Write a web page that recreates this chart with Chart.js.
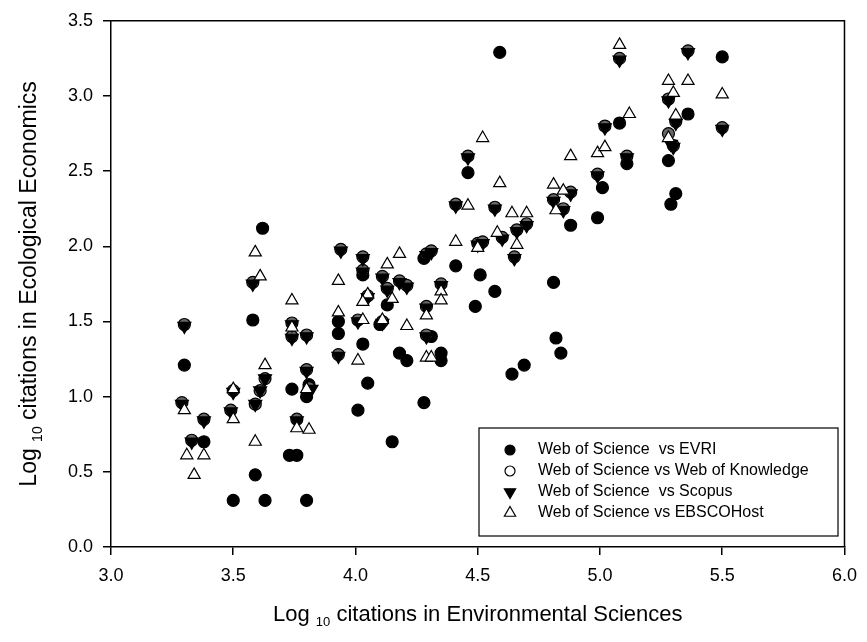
<!DOCTYPE html>
<html>
<head>
<meta charset="utf-8">
<script src="https://cdn.jsdelivr.net/npm/chart.js@4.4.0/dist/chart.umd.min.js"></script>
<style>
  body { margin: 0; background: #fff; }
  #wrap { width: 867px; height: 642px; }
</style>
</head>
<body>
<div id="wrap"><canvas id="citeChart" width="867" height="642"></canvas></div>
<script>
// log10 citation counts: [Environmental Sciences, Ecological Economics]
const seriesLabels = [
    "Web of Science  vs EVRI",
    "Web of Science vs Web of Knowledge",
    "Web of Science  vs Scopus",
    "Web of Science vs EBSCOHost",
];

const evri = [
    [3.30, 1.21], [3.38, 0.70], [3.50, 0.31], [3.63, 0.31], [3.80, 0.31], [3.59, 0.48],
    [3.58, 1.51], [3.62, 2.12], [3.74, 1.05], [3.81, 1.08], [3.80, 1.00], [3.73, 0.61],
    [3.76, 0.61], [3.93, 1.50], [3.93, 1.42], [4.03, 1.81], [4.13, 1.61], [4.28, 1.92],
    [4.41, 1.87], [4.51, 1.81], [4.57, 1.70], [4.49, 1.60], [4.10, 1.48], [4.03, 1.35],
    [4.31, 1.40], [4.18, 1.29], [4.21, 1.24], [4.35, 1.29], [4.35, 1.24], [4.05, 1.09],
    [4.01, 0.91], [4.28, 0.96], [4.15, 0.70], [4.64, 1.15], [4.69, 1.21], [4.46, 2.49],
    [5.11, 2.55], [5.01, 2.39], [4.99, 2.19], [4.88, 2.14], [4.81, 1.76], [4.82, 1.39],
    [4.84, 1.29], [4.59, 3.29], [5.50, 3.26], [5.08, 2.82], [5.36, 2.88], [5.28, 2.57],
    [5.31, 2.35], [5.29, 2.28],
];

const knowledge = [
    [3.30, 1.48], [3.29, 0.96], [3.38, 0.85], [3.33, 0.71], [3.50, 1.04], [3.49, 0.91],
    [3.59, 0.95], [3.61, 1.04], [3.63, 1.12], [3.58, 1.76], [3.74, 1.49], [3.74, 1.40],
    [3.80, 1.41], [3.80, 1.18], [3.81, 1.06], [3.76, 0.85], [3.93, 1.28], [3.94, 1.98],
    [4.03, 1.93], [4.03, 1.84], [4.11, 1.80], [4.13, 1.72], [4.18, 1.77], [4.21, 1.74],
    [4.05, 1.67], [4.29, 1.95], [4.31, 1.97], [4.35, 1.75], [4.29, 1.60], [4.11, 1.50],
    [4.01, 1.51], [4.29, 1.41], [4.41, 2.28], [4.57, 2.26], [4.50, 2.02], [4.52, 2.03],
    [4.60, 2.06], [4.66, 2.11], [4.70, 2.15], [4.65, 1.93], [4.46, 2.60], [5.11, 2.60],
    [4.99, 2.48], [4.88, 2.36], [4.81, 2.31], [4.85, 2.25], [5.08, 3.25], [5.36, 3.30],
    [5.28, 2.98], [5.02, 2.80], [5.31, 2.83], [5.28, 2.75], [5.30, 2.67], [5.50, 2.79],
];

const scopus = [
    [3.30, 1.47], [3.29, 0.95], [3.38, 0.84], [3.33, 0.70], [3.50, 1.03], [3.49, 0.90],
    [3.59, 0.95], [3.61, 1.04], [3.63, 1.12], [3.58, 1.75], [3.74, 1.48], [3.74, 1.39],
    [3.80, 1.40], [3.80, 1.17], [3.82, 1.05], [3.76, 0.84], [3.93, 1.27], [3.94, 1.97],
    [4.03, 1.92], [4.03, 1.83], [4.11, 1.79], [4.13, 1.71], [4.18, 1.76], [4.21, 1.73],
    [4.05, 1.66], [4.29, 1.94], [4.31, 1.96], [4.35, 1.74], [4.29, 1.59], [4.11, 1.49],
    [4.01, 1.50], [4.29, 1.40], [4.41, 2.27], [4.57, 2.25], [4.50, 2.01], [4.52, 2.02],
    [4.60, 2.05], [4.66, 2.10], [4.70, 2.14], [4.65, 1.92], [4.46, 2.59], [5.11, 2.59],
    [4.99, 2.47], [4.88, 2.35], [4.81, 2.30], [4.85, 2.24], [5.08, 3.24], [5.36, 3.29],
    [5.28, 2.97], [5.02, 2.79], [5.31, 2.82], [5.29, 2.68], [5.30, 2.66], [5.50, 2.78],
];

const ebsco = [
    [3.30, 0.91], [3.31, 0.61], [3.38, 0.61], [3.34, 0.48], [3.50, 1.05], [3.50, 0.85],
    [3.59, 0.70], [3.63, 1.21], [3.59, 1.96], [3.61, 1.80], [3.74, 1.64], [3.74, 1.46],
    [3.80, 1.05], [3.76, 0.79], [3.81, 0.78], [3.93, 1.56], [3.93, 1.77], [4.13, 1.88],
    [4.18, 1.95], [4.05, 1.68], [4.03, 1.63], [4.15, 1.65], [4.41, 2.03], [4.46, 2.27],
    [4.59, 2.42], [4.64, 2.22], [4.70, 2.22], [4.50, 1.99], [4.58, 2.09], [4.66, 2.01],
    [4.35, 1.70], [4.35, 1.64], [4.29, 1.54], [4.21, 1.47], [4.11, 1.51], [4.03, 1.51],
    [4.01, 1.24], [4.29, 1.26], [4.31, 1.26], [4.88, 2.60], [4.99, 2.62], [5.02, 2.66],
    [4.81, 2.41], [4.85, 2.37], [4.82, 2.24], [4.52, 2.72], [5.08, 3.34], [5.28, 3.10],
    [5.36, 3.10], [5.30, 3.02], [5.50, 3.01], [5.12, 2.88], [5.31, 2.87], [5.28, 2.72],
];

const xTitle = ["Log ", "10", " citations in Environmental Sciences"];
const yTitle = ["Log ", "10", " citations in Ecological Economics"];

const FONT = "'Liberation Sans', Arial, Helvetica, sans-serif";

function toPoints(pairs) {
    return pairs.map(([x, y]) => ({ x: x, y: y }));
}

// marker styles, also reused by the legend box
const markers = [
    { pointStyle: "circle", radius: 6, rotation: 0, fill: "#000", legendFill: "#000", legendRadius: 5 },
    { pointStyle: "circle", radius: 6, rotation: 0, fill: "#666", legendFill: "#fff", legendRadius: 5 },
    { pointStyle: "triangle", radius: 7.5, rotation: 180, fill: "#000", legendFill: "#000", legendRadius: 6.5 },
    { pointStyle: "triangle", radius: 7, rotation: 0, fill: "#fff", legendFill: "#fff", legendRadius: 6.5 },
];

function drawMarker(ctx, style, radius, x, y) {
    ctx.beginPath();
    if (style.pointStyle === "circle") {
        ctx.arc(x, y, radius, 0, Math.PI * 2);
    } else {
        let rad = style.rotation * Math.PI / 180;
        for (let k = 0; k < 3; k++) {
            const px = x + Math.sin(rad) * radius;
            const py = y - Math.cos(rad) * radius;
            if (k === 0) ctx.moveTo(px, py); else ctx.lineTo(px, py);
            rad += Math.PI * 2 / 3;
        }
        ctx.closePath();
    }
    ctx.fill();
    ctx.stroke();
}

function drawSubText(ctx, parts, size, x, y, rotate) {
    const subSize = Math.round(size * 0.6);
    ctx.font = size + "px " + FONT;
    const w0 = ctx.measureText(parts[0]).width;
    const w2 = ctx.measureText(parts[2]).width;
    ctx.font = subSize + "px " + FONT;
    const w1 = ctx.measureText(parts[1]).width;
    const total = w0 + w1 + w2;
    ctx.save();
    ctx.translate(x, y);
    if (rotate) ctx.rotate(-Math.PI / 2);
    ctx.textBaseline = "middle";
    ctx.textAlign = "left";
    ctx.fillStyle = "#000";
    let cx = -total / 2;
    ctx.font = size + "px " + FONT;
    ctx.fillText(parts[0], cx, 0);
    cx += w0;
    ctx.font = subSize + "px " + FONT;
    ctx.fillText(parts[1], cx, size * 0.35);
    cx += w1;
    ctx.font = size + "px " + FONT;
    ctx.fillText(parts[2], cx, 0);
    ctx.restore();
}

const decorPlugin = {
    id: "decor",
    afterDraw(chart) {
        const { ctx, chartArea: a } = chart;
        ctx.save();

        // top and right edges of the frame
        ctx.strokeStyle = "#000";
        ctx.lineWidth = 1.5;
        ctx.beginPath();
        ctx.moveTo(a.left, a.top);
        ctx.lineTo(a.right, a.top);
        ctx.lineTo(a.right, a.bottom);
        ctx.stroke();

        // axis titles with subscript 10
        drawSubText(ctx, xTitle, 22, (a.left + a.right) / 2, 615, false);
        drawSubText(ctx, yTitle, 23, 30, (a.top + a.bottom) / 2, true);

        // legend box in the lower right corner
        const box = { left: 479, top: 428, right: 838, bottom: 536 };
        ctx.lineWidth = 1.2;
        ctx.fillStyle = "#fff";
        ctx.fillRect(box.left, box.top, box.right - box.left, box.bottom - box.top);
        ctx.strokeRect(box.left, box.top, box.right - box.left, box.bottom - box.top);
        ctx.font = "16px " + FONT;
        ctx.textBaseline = "middle";
        ctx.textAlign = "left";
        seriesLabels.forEach((label, i) => {
            const y = 450 + i * 21;
            const m = markers[i];
            ctx.fillStyle = m.legendFill;
            ctx.strokeStyle = "#000";
            ctx.lineWidth = 1.2;
            drawMarker(ctx, m, m.legendRadius, 510, y);
            ctx.fillStyle = "#000";
            ctx.fillText(label, 538, y);
        });
        ctx.restore();
    },
};

const seriesData = [evri, knowledge, scopus, ebsco];
const drawOrder = [4, 3, 2, 1];

const ctx = document.getElementById("citeChart").getContext("2d");

const chart = new Chart(ctx, {
    type: "scatter",
    data: {
        datasets: seriesData.map((pairs, i) => ({
            label: seriesLabels[i],
            data: toPoints(pairs),
            order: drawOrder[i],
            pointStyle: markers[i].pointStyle,
            pointRadius: markers[i].radius,
            pointHoverRadius: markers[i].radius,
            rotation: markers[i].rotation,
            backgroundColor: markers[i].fill,
            borderColor: "#000",
            borderWidth: 1.2,
        })),
    },
    options: {
        responsive: false,
        animation: false,
        devicePixelRatio: 1,
        layout: {
            padding: { top: 18, right: 19, left: 0, bottom: 0 },
        },
        plugins: {
            legend: { display: false },
            tooltip: { enabled: false },
        },
        scales: {
            x: {
                type: "linear",
                min: 3.0,
                max: 6.0,
                ticks: {
                    stepSize: 0.5,
                    color: "#000",
                    padding: 10,
                    font: { family: FONT, size: 18 },
                    callback: (v) => v.toFixed(1),
                },
                grid: {
                    drawOnChartArea: false,
                    tickLength: 8,
                    color: "#000",
                    lineWidth: 1.5,
                },
                border: { color: "#000", width: 1.5 },
                afterFit: (scale) => { scale.height = 95; },
            },
            y: {
                type: "linear",
                min: 0,
                max: 3.5,
                ticks: {
                    stepSize: 0.5,
                    color: "#000",
                    padding: 10,
                    font: { family: FONT, size: 18 },
                    callback: (v) => v.toFixed(1),
                },
                grid: {
                    drawOnChartArea: false,
                    tickLength: 8,
                    color: "#000",
                    lineWidth: 1.5,
                },
                border: { color: "#000", width: 1.5 },
                afterFit: (scale) => { scale.width = 111; },
            },
        },
    },
    plugins: [decorPlugin],
});
</script>
</body>
</html>
